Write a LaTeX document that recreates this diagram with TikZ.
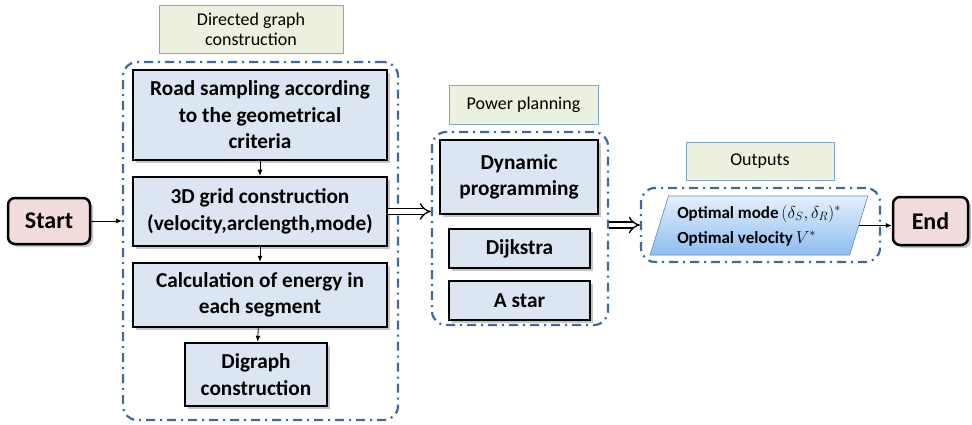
\documentclass[tikz,border=0pt]{standalone}
\usepackage{fontspec}
\setmainfont{Carlito}
\usetikzlibrary{arrows.meta,shapes.geometric,shadows}
\tikzset{
  stepbox/.style={draw=black,line width=2.5pt,fill=boxfill,align=center,
    font=\bfseries\fontsize{21.3}{26.5}\selectfont,
    drop shadow={opacity=0.45,shadow xshift=3pt,shadow yshift=-3pt}},
  termbox/.style={draw=black,line width=2.5pt,fill=termfill,rounded corners=7pt,
    font=\bfseries\fontsize{24}{26}\selectfont,
    drop shadow={opacity=0.45,shadow xshift=3pt,shadow yshift=-3pt}},
  titlebox/.style={draw=titleline,line width=0.8pt,fill=titlefill,align=center,
    font=\fontsize{18}{20}\selectfont},
  grp/.style={draw=grpline,line width=2.2pt,rounded corners=14pt,
    dash pattern=on 9pt off 5pt on 2pt off 5pt},
  thin/.style={-{Latex[length=6pt,width=5pt]},line width=0.8pt},
  fat/.style={double,double distance=4.5pt,line width=1.3pt,-{Implies}},
}
\begin{document}
\begin{tikzpicture}[x=1pt,y=-1pt]
\definecolor{boxfill}{HTML}{DCE6F2}
\definecolor{termfill}{HTML}{F2DCDB}
\definecolor{titlefill}{HTML}{EBF1DE}
\definecolor{titleline}{HTML}{7EA6CC}
\definecolor{grpline}{HTML}{3F6A99}
\definecolor{outtop}{HTML}{E3F0FD}
\definecolor{outbot}{HTML}{8DBDF0}
\useasboundingbox (0,0) rectangle (972,425);
% titles
\node[titlebox,minimum width=184,minimum height=48] (tdg) at (251,29) {Directed graph\\construction};
\node[titlebox,minimum width=149,minimum height=39] (tpp) at (523.5,104.5) {Power planning};
\node[titlebox,minimum width=148,minimum height=38] (tout) at (760,161) {Outputs};
% groups
\node[grp,minimum width=275,minimum height=358] (dg) at (260.5,241) {};
\node[grp,minimum width=176,minimum height=193] (pp) at (520,228.5) {};
\node[grp,minimum width=239,minimum height=74] (out) at (760.5,225) {};
% directed graph steps
\node[stepbox,minimum width=254,minimum height=90] (road) at (260,115) {Road sampling according\\to the geometrical\\criteria};
\node[stepbox,minimum width=254,minimum height=69] (grid) at (260,211.5) {3D grid construction\\(velocity,arclength,mode)};
\node[stepbox,minimum width=254,minimum height=64] (energy) at (260,295) {Calculation of energy in\\each segment};
\node[stepbox,minimum width=142,minimum height=63] (digraph) at (256,374.5) {Digraph\\construction};
% power planning
\node[stepbox,minimum width=158,minimum height=74] (dp) at (519,177) {Dynamic\\programming};
\node[stepbox,minimum width=141,minimum height=39] (dij) at (519.5,248.5) {Dijkstra};
\node[stepbox,minimum width=141,minimum height=39] (astar) at (519.5,300.5) {A star};
% outputs
\node[trapezium,trapezium left angle=70,trapezium right angle=110,trapezium stretches=true,
  minimum width=218,minimum height=59,draw=grpline!80,line width=0.6pt,
  top color=outtop,bottom color=outbot,align=left,
  font=\bfseries\fontsize{17}{25}\selectfont] (res) at (759,225.5)
  {Optimal mode\,$(\delta_S,\delta_R)^*$\\Optimal velocity\,$V^*$};
% start / end
\node[termbox,minimum width=82,minimum height=46] (start) at (49,221) {Start};
\node[termbox,minimum width=75,minimum height=48] (end) at (930.5,221) {End};
% connectors
\draw[thin] (start.east) -- (start.east -| dg.west);
\draw[thin] (road) -- (grid);
\draw[thin] (grid) -- (energy);
\draw[thin] (energy) -- (digraph);
\draw[fat] (grid.east) -- (grid.east -| pp.west);
\draw[fat] (out.west -| pp.east) -- (out.west);
\draw[thin] (res.east) -- (end.west |- res.east);
\end{tikzpicture}
\end{document}
